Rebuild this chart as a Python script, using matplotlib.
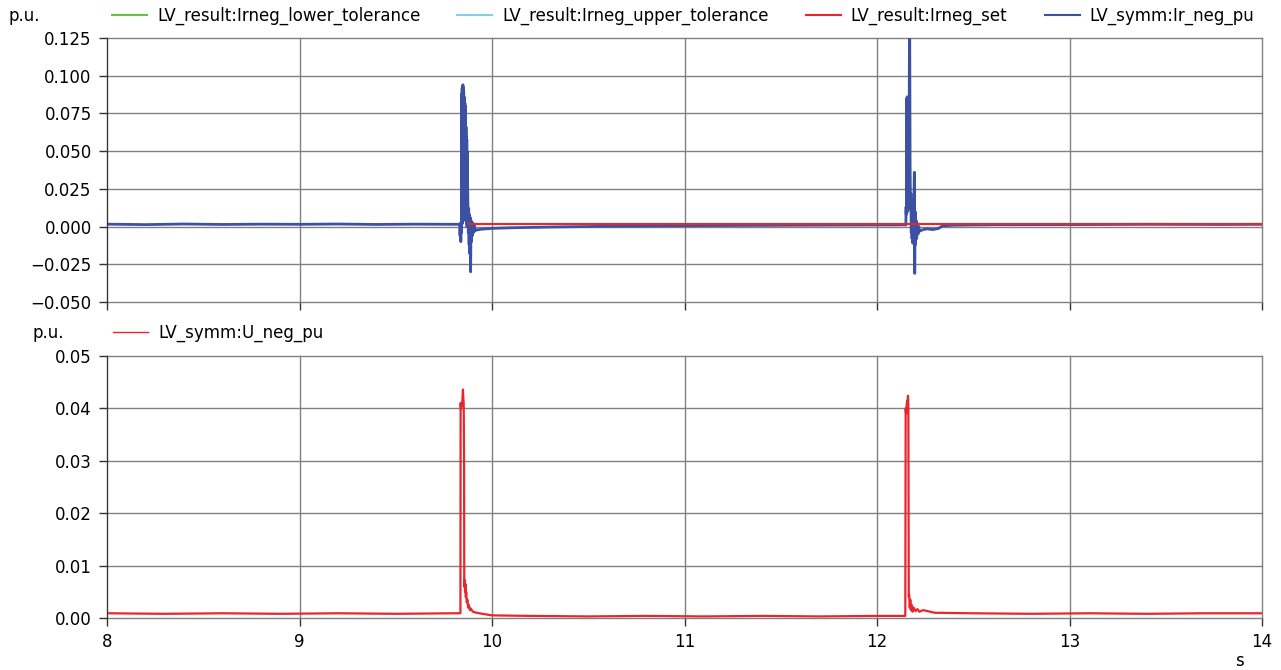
import numpy as np
import matplotlib
matplotlib.use("Agg")
import matplotlib.pyplot as plt

# time axis in s, values in p.u.
# negative sequence current Ir_neg (measured)
t_ir = [8.0, 8.2, 8.4, 8.6, 8.8, 9.0, 9.2, 9.4, 9.6, 9.8, 9.832,
        9.834, 9.836, 9.838, 9.840, 9.842, 9.843, 9.844, 9.845, 9.846, 9.847,
        9.848, 9.849, 9.850, 9.851, 9.852, 9.853, 9.854, 9.855, 9.856, 9.857,
        9.858, 9.859, 9.860, 9.861, 9.862, 9.863, 9.864, 9.865, 9.866, 9.867,
        9.868, 9.869, 9.870, 9.871, 9.872, 9.873, 9.875, 9.877, 9.879, 9.881,
        9.883, 9.885, 9.887, 9.889, 9.891, 9.893, 9.895, 9.898, 9.901, 9.904,
        9.908, 9.912, 9.918, 9.925, 9.94, 9.97, 10.0, 10.1, 10.3, 10.6, 11.0,
        11.4, 11.8, 12.1, 12.148,
        12.150, 12.151, 12.152, 12.153, 12.154, 12.155, 12.156, 12.157, 12.158,
        12.159, 12.160, 12.161, 12.162, 12.164, 12.166, 12.168, 12.170, 12.172,
        12.174, 12.176, 12.178, 12.180, 12.182, 12.184, 12.186, 12.188, 12.190,
        12.192, 12.194, 12.196, 12.198, 12.200, 12.203, 12.206, 12.209, 12.213,
        12.217, 12.222, 12.24, 12.26, 12.29, 12.32, 12.34, 12.4, 12.6, 13.0,
        13.4, 13.8, 14.0]
ir_neg = [0.0016, 0.0013, 0.0017, 0.0014, 0.0016, 0.0015, 0.0017, 0.0014, 0.0016, 0.0015, 0.0015,
          -0.006, 0.002, -0.010, 0.003, -0.004, 0.088, 0.005, 0.092, 0.002, 0.093,
          0.010, 0.094, 0.004, 0.092, 0.012, 0.090, 0.006, 0.086, 0.015, 0.084,
          0.008, 0.082, 0.014, 0.080, 0.005, 0.072, 0.010, 0.066, 0.003, 0.060,
          0.008, 0.058, 0.000, 0.050, 0.004, 0.030, 0.014, -0.004, 0.012, -0.012,
          0.008, -0.018, 0.006, -0.030, 0.004, -0.010, 0.003, -0.006, 0.002, -0.004,
          0.001, -0.003, -0.002, -0.0022, -0.0018, -0.0015, -0.0012, -0.0008, -0.0003, 0.0002, 0.0006,
          0.0008, 0.0010, 0.0011, 0.0012,
          0.0010, 0.013, 0.008, 0.014, 0.010, 0.085, 0.012, 0.086, 0.015,
          0.084, 0.010, 0.080, 0.014, 0.060, 0.012, 0.110, 0.128, 0.040,
          0.012, 0.022, -0.004, 0.018, -0.008, 0.015, -0.011, 0.012, -0.009,
          0.020, 0.036, -0.031, 0.010, -0.012, 0.004, -0.008, 0.002, -0.005,
          0.000, -0.003, -0.002, -0.0015, -0.002, -0.0012, 0.0005, 0.0009, 0.0012, 0.0013,
          0.0015, 0.0014, 0.0015]

# setpoint and tolerance band (only valid after the first event)
t_set = [9.88, 14.0]
ir_set = [0.0015, 0.0015]
ir_lower = [0.0015, 0.0015]
ir_upper = [0.0015, 0.0015]

# negative sequence voltage U_neg
t_u = [8.0, 8.3, 8.6, 8.9, 9.2, 9.5, 9.8, 9.836,
       9.837, 9.839, 9.841, 9.843, 9.845, 9.847, 9.849, 9.851, 9.853, 9.855,
       9.856, 9.858, 9.860, 9.862, 9.864, 9.866, 9.869, 9.872, 9.876, 9.880,
       9.885, 9.89, 9.90, 9.92, 9.95, 10.0, 10.2, 10.5, 10.8, 11.1, 11.4,
       11.7, 12.0, 12.147,
       12.149, 12.151, 12.153, 12.155, 12.157, 12.159, 12.161, 12.163, 12.165,
       12.167, 12.170, 12.173, 12.176, 12.180, 12.185, 12.19, 12.20, 12.21,
       12.22, 12.24, 12.3, 12.5, 12.8, 13.1, 13.4, 13.7, 14.0]
u_neg = [0.0009, 0.0008, 0.0009, 0.0008, 0.0009, 0.0008, 0.0009, 0.0009,
         0.041, 0.040, 0.041, 0.0405, 0.041, 0.042, 0.0436, 0.042, 0.041, 0.030,
         0.006, 0.0072, 0.005, 0.0065, 0.004, 0.005, 0.003, 0.0035, 0.002, 0.0025,
         0.0015, 0.0018, 0.0012, 0.0010, 0.0008, 0.0005, 0.0004, 0.0003, 0.0004, 0.0003, 0.0004,
         0.0003, 0.0004, 0.0004,
         0.040, 0.039, 0.040, 0.041, 0.0415, 0.041, 0.0424, 0.040, 0.004,
         0.0045, 0.002, 0.0035, 0.0015, 0.0025, 0.0012, 0.002, 0.0013, 0.0017,
         0.0012, 0.0015, 0.0010, 0.0009, 0.0008, 0.0009, 0.0008, 0.0009, 0.0009]

x_ticks = [8, 9, 10, 11, 12, 13, 14]
y_ticks_ir = [-0.050, -0.025, 0.000, 0.025, 0.050, 0.075, 0.100, 0.125]
y_ticks_u = [0.00, 0.01, 0.02, 0.03, 0.04, 0.05]

plt.rcParams['font.family'] = ['DejaVu Sans']
plt.rcParams['font.size'] = 12

W, H = 1281, 670
fig = plt.figure(figsize=(W / 100, H / 100), dpi=100)

def px_axes(left, top, right, bottom):
    return fig.add_axes([left / W, 1 - bottom / H, (right - left) / W, (bottom - top) / H])

ax1 = px_axes(107, 38, 1262, 302)
ax2 = px_axes(107, 356, 1262, 618)

for ax in (ax1, ax2):
    for side in ('top', 'right', 'bottom'):
        ax.spines[side].set_visible(False)
    ax.spines['left'].set_color('#333333')
    ax.set_xlim(8, 14)
    ax.set_xticks(x_ticks)
    ax.grid(True, color='#808080', linewidth=1.0)
    ax.set_axisbelow(True)
    ax.tick_params(direction='out', length=6, width=1, color='#333333', pad=5, labelsize=12)

ax1.plot(t_set, ir_lower, color='#6cbf45', lw=1.5, label='LV_result:Irneg_lower_tolerance')
ax1.plot(t_set, ir_upper, color='#84cfe3', lw=1.5, label='LV_result:Irneg_upper_tolerance')
ax1.plot(t_set, ir_set, color='#e8262d', lw=1.5, label='LV_result:Irneg_set', zorder=3)
ax1.plot(t_ir, ir_neg, color='#3d51a3', lw=2.0, label='LV_symm:Ir_neg_pu', zorder=2.5)
ax1.set_ylim(-0.050, 0.125)
ax1.set_yticks(y_ticks_ir)
ax1.set_yticklabels(['{:.3f}'.format(v).replace('-', '\u2212') for v in y_ticks_ir])
ax1.tick_params(axis='x', labelbottom=False)

ax2.plot(t_u, u_neg, color='#e8262d', lw=1.6, label='LV_symm:U_neg_pu')
ax2.set_ylim(0, 0.05)
ax2.set_yticks(y_ticks_u)
ax2.set_yticklabels(['{:.2f}'.format(v) for v in y_ticks_u])

# grid lines on the axes limits should not be cut in half
for ax in (ax1, ax2):
    for gl in ax.get_xgridlines() + ax.get_ygridlines():
        gl.set_clip_on(False)

leg1 = ax1.legend(loc='center left', bbox_to_anchor=(112 / W, 1 - 16 / H),
                  bbox_transform=fig.transFigure, ncol=4, frameon=False,
                  borderpad=0, borderaxespad=0, handlelength=2.1,
                  handletextpad=0.6, columnspacing=2.22, fontsize=12)
for line in leg1.get_lines():
    line.set_linewidth(1.5)
leg2 = ax2.legend(loc='center left', bbox_to_anchor=(113 / W, 1 - 333 / H),
                  bbox_transform=fig.transFigure, frameon=False,
                  borderpad=0, borderaxespad=0, handlelength=2.1,
                  handletextpad=0.6, fontsize=12)
for line in leg2.get_lines():
    line.set_linewidth(1.0)

fig.text(8 / W, 1 - 16 / H, 'p.u.', ha='left', va='center', fontsize=12)
fig.text(32 / W, 1 - 333 / H, 'p.u.', ha='left', va='center', fontsize=12)
fig.text(1239 / W, 1 - 661 / H, 's', ha='center', va='center', fontsize=12)

fig.savefig('out.png', dpi=100)
